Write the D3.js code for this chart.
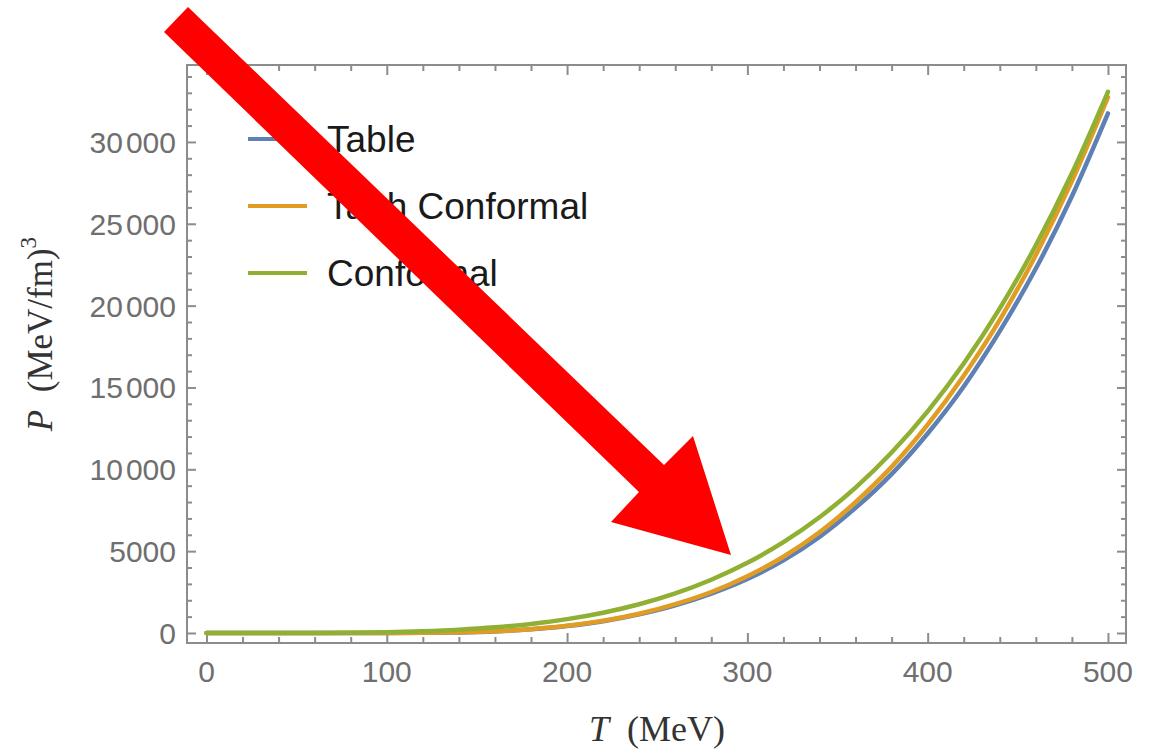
<!DOCTYPE html>
<html>
<head>
<meta charset="utf-8">
<script src="https://cdn.jsdelivr.net/npm/d3@7"></script>
<style>
  html, body { margin: 0; padding: 0; background: #fff; }
  svg { display: block; }
</style>
</head>
<body>
<svg id="chart"></svg>
<script>
// temperatures in MeV, pressure in MeV/fm^3
const temps = [0, 20, 40, 60, 80, 100, 120, 140, 160, 180, 200, 220, 240, 260, 280, 300,
               320, 340, 360, 380, 400, 420, 440, 460, 480, 500];
const tableP = [0, 0, 0.1, 0.4, 1.5, 4, 9, 37, 97, 222, 423, 719, 1141, 1692, 2406, 3299,
                4438, 5867, 7641, 9706, 12188, 15062, 18440, 22265, 26678, 31740];
const tanhP = [0, 0, 0.1, 0.5, 2, 6, 11, 41, 104, 233, 440, 743, 1176, 1764, 2504, 3471,
               4659, 6150, 7997, 10148, 12729, 15720, 19134, 23094, 27605, 32731];
const confP = [0, 0.1, 1.4, 6.9, 21.7, 53, 110, 203, 347, 555, 846, 1239, 1755, 2417, 3252, 4285,
               5547, 7069, 8885, 11030, 13542, 16461, 19828, 23686, 28082, 33062];

const seriesNames = ["Table", "Tanh Conformal", "Conformal"];
const seriesColors = ["#5e81b5", "#e19c24", "#8fb032"];

const xMajor = [0, 100, 200, 300, 400, 500];
const xLabels = ["0", "100", "200", "300", "400", "500"];
const yMajor = [0, 5000, 10000, 15000, 20000, 25000, 30000];
const yLabels = ["0", "5000", "10 000", "15 000", "20 000", "25 000", "30 000"];

const width = 1151, height = 749;
const plotLeft = 187, plotRight = 1126, plotTop = 65, plotBottom = 643;

const svg = d3.select("#chart").attr("width", width).attr("height", height);
svg.append("rect").attr("width", width).attr("height", height).attr("fill", "#fff");

const x = d3.scaleLinear().domain([-10.8, 510]).range([plotLeft, plotRight]);
const y = d3.scaleLinear().domain([-611, 34700]).range([plotBottom, plotTop]);

const frameColor = "#8c8c8c";
const xMinor = d3.range(20, 501, 20).filter(v => v % 100 !== 0);
const yMinor = d3.range(1000, 34001, 1000).filter(v => v % 5000 !== 0);

function tickAxis(axisFn, scale, values, size, tx, ty) {
    let g = svg.append("g")
        .attr("transform", `translate(${tx},${ty})`)
        .call(axisFn(scale).tickValues(values).tickSize(size).tickFormat(""));
    g.select(".domain").remove();
    g.selectAll("line").attr("stroke", frameColor).attr("stroke-width", 2);
    return g;
}

// ticks on all four sides, pointing inward
tickAxis(d3.axisBottom, x, xMajor, -10, 0, plotBottom);
tickAxis(d3.axisBottom, x, xMinor, -6, 0, plotBottom);
tickAxis(d3.axisTop, x, xMajor, -10, 0, plotTop);
tickAxis(d3.axisTop, x, xMinor, -6, 0, plotTop);
tickAxis(d3.axisLeft, y, yMajor, -9, plotLeft, 0);
tickAxis(d3.axisLeft, y, yMinor, -5, plotLeft, 0);
tickAxis(d3.axisRight, y, yMajor, -9, plotRight, 0);
tickAxis(d3.axisRight, y, yMinor, -5, plotRight, 0);

svg.append("rect")
    .attr("x", plotLeft).attr("y", plotTop)
    .attr("width", plotRight - plotLeft).attr("height", plotBottom - plotTop)
    .attr("fill", "none").attr("stroke", frameColor).attr("stroke-width", 2);

// tick labels
svg.selectAll(".xlab").data(xMajor).join("text")
    .attr("x", d => x(d)).attr("y", 671)
    .attr("text-anchor", "middle").attr("dominant-baseline", "central")
    .attr("font-family", "Liberation Sans, Arial, sans-serif").attr("font-size", 30)
    .attr("fill", "#6f6f6f")
    .text((d, i) => xLabels[i]);

// y labels: digit groups separated by a small gap
svg.selectAll(".ylab").data(yMajor).join("text")
    .attr("x", 176).attr("y", d => y(d))
    .attr("text-anchor", "end").attr("dominant-baseline", "central")
    .attr("font-family", "Liberation Sans, Arial, sans-serif").attr("font-size", 30)
    .attr("fill", "#6f6f6f")
    .each(function (d, i) {
        let parts = yLabels[i].split(" ");
        let t = d3.select(this);
        t.append("tspan").text(parts[0]);
        if (parts.length > 1) t.append("tspan").attr("dx", 3).text(parts[1]);
    });

// axis titles
let xt = svg.append("text")
    .attr("x", 657).attr("y", 741)
    .attr("text-anchor", "middle")
    .attr("font-family", "Liberation Serif, Times New Roman, serif").attr("font-size", 36)
    .attr("fill", "#333");
xt.append("tspan").attr("font-style", "italic").text("T");
xt.append("tspan").text("\u2002(MeV)");

let yt = svg.append("text")
    .attr("transform", "translate(52,334) rotate(-90)")
    .attr("text-anchor", "middle")
    .attr("font-family", "Liberation Serif, Times New Roman, serif").attr("font-size", 35)
    .attr("fill", "#333");
yt.append("tspan").attr("font-style", "italic").text("P");
yt.append("tspan").text("\u2002(MeV/fm)");
yt.append("tspan").attr("font-size", 23).attr("dy", -16).text("3");

// curves
const seriesData = [tableP, tanhP, confP];
const line = d3.line()
    .x((d, i) => x(temps[i]))
    .y(d => y(d))
    .curve(d3.curveMonotoneX);

svg.selectAll(".curve").data(seriesData).join("path")
    .attr("d", line)
    .attr("fill", "none")
    .attr("stroke", (d, i) => seriesColors[i])
    .attr("stroke-width", 4.5)
    .attr("stroke-linecap", "round")
    .attr("stroke-linejoin", "round");

// legend
const legendY = [139, 206, 273];
seriesNames.forEach((name, i) => {
    svg.append("line")
        .attr("x1", 248).attr("x2", 307)
        .attr("y1", legendY[i]).attr("y2", legendY[i])
        .attr("stroke", seriesColors[i]).attr("stroke-width", 4);
    svg.append("text")
        .attr("x", 327).attr("y", legendY[i])
        .attr("dominant-baseline", "central")
        .attr("font-family", "Liberation Sans, Arial, sans-serif").attr("font-size", 37)
        .attr("fill", "#1a1a1a")
        .text(name);
});

// red annotation arrow on top
const arrowPts = [[164, 32], [188, 7], [664, 465], [693, 436], [731, 555], [611, 522], [639, 492]];
svg.append("polygon")
    .attr("points", arrowPts.map(p => p.join(",")).join(" "))
    .attr("fill", "#ff0000");
</script>
</body>
</html>
